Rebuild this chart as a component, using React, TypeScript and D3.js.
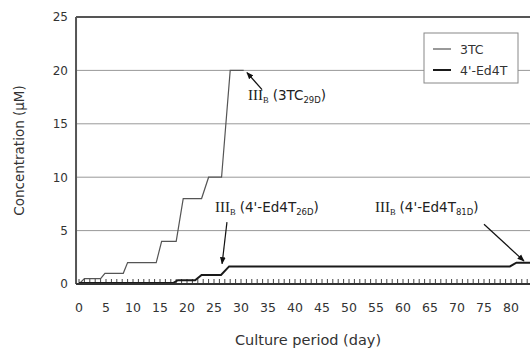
import React from "react";
import { scaleLinear, line, range } from "d3";

// 3TC escalation (thin grey) and 4'-Ed4T escalation (thick black)
const days3TC = [0, 1, 4, 4.8, 8.2, 9, 14.3, 15.3, 18, 19.3, 22.7, 24, 26.4, 28, 30.5];
const conc3TC = [0, 0.5, 0.5, 1, 1, 2, 2, 4, 4, 8, 8, 10, 10, 20, 20];

const daysEd4T = [0, 17.5, 18.3, 21.5, 22.7, 26.3, 27.8, 79.8, 81, 86];
const concEd4T = [0.1, 0.1, 0.35, 0.35, 0.85, 0.85, 1.65, 1.65, 2.0, 2.0];

const xTicks = range(0, 81, 5);
const yTicks = [0, 5, 10, 15, 20, 25];
const gridValues = [5, 10, 15, 20];

// annotations: label anchor (day, conc), arrow from -> to (day, conc)
const notes = [
  { main: "(3TC", sub: "29D", lx: 31.3, ly: 17.2, from: [33.9, 18.2], to: [31.1, 19.8] },
  { main: "(4'-Ed4T", sub: "26D", lx: 25.2, ly: 6.7, from: [27.4, 5.8], to: [26.5, 1.9] },
  { main: "(4'-Ed4T", sub: "81D", lx: 54.8, ly: 6.7, from: [75, 5.6], to: [82.4, 2.15] },
];

const W = 530;
const H = 348;
const sans = "'DejaVu Sans', Verdana, sans-serif";
const serif = "'Liberation Serif', 'Times New Roman', serif";

export default function App() {
  const x = scaleLinear().domain([0, 80]).range([79, 511]);
  const y = scaleLinear().domain([0, 25]).range([284, 17]);
  const left = x(-0.55);
  const right = 560;

  const mk = (ds: number[], cs: number[]) =>
    line<number>()
      .x((d, i) => x(ds[i]))
      .y((d, i) => y(cs[i]))(cs) as string;

  return (
    <div style={{ position: "absolute", left: 0, top: 0 }}>
      <svg width={W} height={H} style={{ display: "block", background: "#fff" }}>
        <defs>
          <marker id="ah" viewBox="0 0 10 10" refX="9" refY="5" markerWidth="6" markerHeight="6" orient="auto">
            <path d="M0,1 L10,5 L0,9 z" fill="#111" />
          </marker>
        </defs>

        {/* grid */}
        {gridValues.map((v) => (
          <line key={v} x1={left} x2={right} y1={y(v)} y2={y(v)} stroke="#999" strokeWidth={1} />
        ))}
        <line x1={left} x2={right} y1={y(25)} y2={y(25)} stroke="#555" strokeWidth={2} />
        <line x1={left} x2={left} y1={y(25)} y2={y(0)} stroke="#555" strokeWidth={2} />

        {/* daily minor ticks */}
        {range(0, 86).map((d) => (
          <line key={d} x1={x(d)} x2={x(d)} y1={y(0)} y2={y(0) - 5} stroke="#444" strokeWidth={1} />
        ))}

        {/* series */}
        <path d={mk(days3TC, conc3TC)} fill="none" stroke="#555" strokeWidth={1.2} />
        <path d={mk(daysEd4T, concEd4T)} fill="none" stroke="#1a1a1a" strokeWidth={2} />

        <line x1={left} x2={right} y1={y(0)} y2={y(0)} stroke="#333" strokeWidth={2.2} />

        {/* y labels */}
        {yTicks.map((v) => (
          <text key={v} x={68} y={y(v)} dy="0.36em" textAnchor="end" fontFamily={sans} fontSize={12} fill="#333">
            {v}
          </text>
        ))}
        {/* x labels */}
        {xTicks.map((v) => (
          <text key={v} x={x(v)} y={307} dy="0.36em" textAnchor="middle" fontFamily={sans} fontSize={12.5} fill="#333">
            {v}
          </text>
        ))}

        <text
          transform={`translate(19,${y(12.5)}) rotate(-90)`}
          textAnchor="middle"
          dy="0.36em"
          fontFamily={sans}
          fontSize={13.5}
          fill="#333"
        >
          Concentration (μM)
        </text>
        <text x={308} y={345} textAnchor="middle" fontFamily={sans} fontSize={14.5} fill="#333">
          Culture period (day)
        </text>

        {/* annotations */}
        {notes.map((n, i) => (
          <g key={i}>
            <line
              x1={x(n.from[0])}
              y1={y(n.from[1])}
              x2={x(n.to[0])}
              y2={y(n.to[1])}
              stroke="#111"
              strokeWidth={1.2}
              markerEnd="url(#ah)"
            />
            <text x={x(n.lx)} y={y(n.ly)} fill="#222">
              <tspan fontFamily={serif} fontSize={15}>III</tspan>
              <tspan fontFamily={serif} fontSize={8.5} dy={3}>B</tspan>
              <tspan fontFamily={sans} fontSize={13.5} dy={-3} dx={4}>{n.main}</tspan>
              <tspan fontFamily={sans} fontSize={8.5} dy={3}>{n.sub}</tspan>
              <tspan fontFamily={sans} fontSize={13.5} dy={-3}>)</tspan>
            </text>
          </g>
        ))}

        {/* legend */}
        <g>
          <rect x={424} y={33} width={94} height={50} fill="#fff" stroke="#888" strokeWidth={1} />
          <line x1={433} x2={451} y1={49} y2={49} stroke="#555" strokeWidth={1.2} />
          <text x={460} y={49} dy="0.36em" fontFamily={sans} fontSize={12.5} fill="#333">3TC</text>
          <line x1={433} x2={451} y1={70} y2={70} stroke="#1a1a1a" strokeWidth={2} />
          <text x={460} y={70} dy="0.36em" fontFamily={sans} fontSize={12.5} fill="#333">4'-Ed4T</text>
        </g>
      </svg>
    </div>
  );
}
